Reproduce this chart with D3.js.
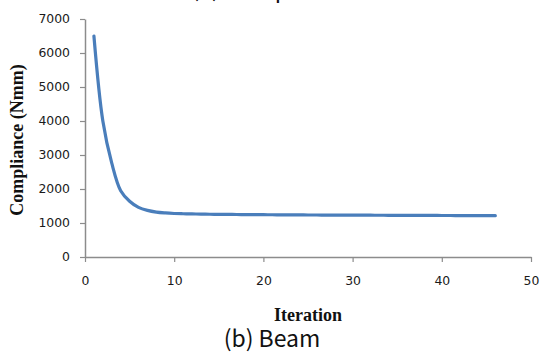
<!DOCTYPE html>
<html><head><meta charset="utf-8">
<script src="https://cdn.jsdelivr.net/npm/d3@7"></script>
<style>body{margin:0;background:#fff}svg{display:block}</style>
</head><body>
<svg id="c" width="541" height="352"></svg>
<script>
const iterations = d3.range(1, 47);
const compliance = [6500, 4000, 2760, 1950, 1640, 1460, 1370, 1320, 1295, 1280,
  1272, 1266, 1262, 1258, 1255, 1252, 1250, 1248, 1246, 1244,
  1242, 1240, 1238, 1237, 1236, 1235, 1234, 1233, 1232, 1231,
  1230, 1229, 1228, 1227, 1226, 1225, 1224, 1223, 1222, 1221,
  1220, 1219, 1218, 1217, 1216, 1215];
const xTicks = [0, 10, 20, 30, 40, 50];
const yTicks = [0, 1000, 2000, 3000, 4000, 5000, 6000, 7000];
const topTitle = "(a) Compliance";
const caption = "(b) Beam";
const xLabel = "Iteration";
const yLabel = "Compliance (Nmm)";

const svg = d3.select("#c");
const x = d3.scaleLinear().domain([0, 50]).range([85, 531]);
const y = d3.scaleLinear().domain([0, 7000]).range([257, 19]);

const axisColor = "#8c8c8c";
const gx = svg.append("g").attr("transform", `translate(0,${y(0)})`)
  .call(d3.axisBottom(x).tickValues(xTicks).tickFormat(d3.format("d")).tickSize(5).tickSizeOuter(0).tickPadding(14));
const gy = svg.append("g").attr("transform", `translate(${x(0)},0)`)
  .call(d3.axisLeft(y).tickValues(yTicks).tickFormat(d3.format("d")).tickSize(5).tickSizeOuter(0).tickPadding(10));
[gx, gy].forEach(g => {
  g.select(".domain").attr("stroke", axisColor).attr("stroke-width", 1.5);
  g.selectAll(".tick line").attr("stroke", axisColor).attr("stroke-width", 1.2);
  g.selectAll(".tick text").attr("fill", "#1a1a1a")
    .style("font-family", "'DejaVu Sans', Verdana, sans-serif").style("font-size", "12.4px");
});

const line = d3.line().x((d, i) => x(iterations[i])).y(d => y(d)).curve(d3.curveCatmullRom.alpha(0.5));
svg.append("path").datum(compliance).attr("d", line)
  .attr("fill", "none").attr("stroke", "#4a7ebb").attr("stroke-width", 3.2)
  .attr("stroke-linecap", "round").attr("stroke-linejoin", "round");

svg.append("text").attr("x", 308).attr("y", 321).attr("text-anchor", "middle")
  .style("font-family", "'Liberation Serif', serif").style("font-weight", "bold").style("font-size", "18px")
  .attr("fill", "#111").text(xLabel);
svg.append("text").attr("transform", "translate(23,140) rotate(-90)").attr("text-anchor", "middle")
  .style("font-family", "'Liberation Serif', serif").style("font-weight", "bold").style("font-size", "18px")
  .attr("fill", "#111").text(yLabel);
svg.append("text").attr("x", 272).attr("y", 347).attr("text-anchor", "middle")
  .style("font-family", "'Noto Sans CJK SC', 'Noto Sans', sans-serif").style("font-size", "23px")
  .attr("fill", "#111").text(caption);
svg.append("text").attr("x", 272).attr("y", -3).attr("text-anchor", "middle")
  .style("font-family", "'Noto Sans CJK SC', 'Noto Sans', sans-serif").style("font-size", "23px")
  .attr("fill", "#111").text(topTitle);
</script>
</body></html>
